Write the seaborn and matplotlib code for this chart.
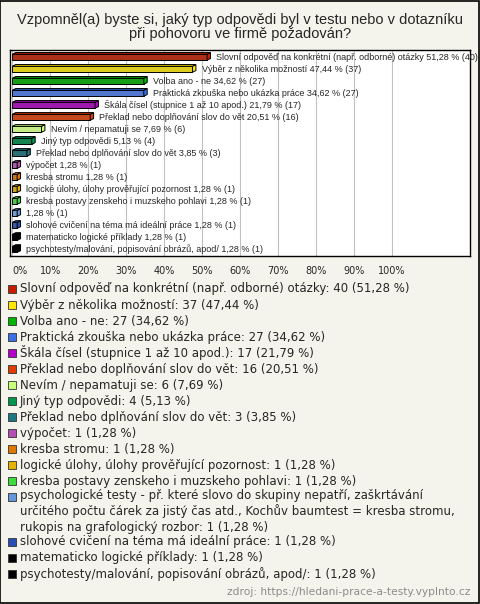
import numpy as np
import pandas as pd
import matplotlib
matplotlib.use("Agg")
import matplotlib.pyplot as plt
import seaborn as sns
from matplotlib.patches import Rectangle, Polygon

# --- data -------------------------------------------------------------
categories = [
    "Slovní odpověď na konkrétní (např. odborné) otázky",
    "Výběr z několika možností",
    "Volba ano - ne",
    "Praktická zkouška nebo ukázka práce",
    "Škála čísel (stupnice 1 až 10 apod.)",
    "Překlad nebo doplňování slov do vět",
    "Nevím / nepamatuji se",
    "Jiný typ odpovědi",
    "Překlad nebo dplňování slov do vět",
    "výpočet",
    "kresba stromu",
    "logické úlohy, úlohy prověřující pozornost",
    "kresba postavy zenskeho i muzskeho pohlavi",
    "psychologické testy - př. které slovo do skupiny nepatří, zaškrtávání\n"
    "určitého počtu čárek za jistý čas atd., Kochův baumtest = kresba stromu,\n"
    "rukopis na grafologický rozbor",
    "slohové cvičení na téma má ideální práce",
    "matematicko logické příklady",
    "psychotesty/malování, popisování obrázů, apod/",
]
counts = [40, 37, 27, 27, 17, 16, 6, 4, 3, 1, 1, 1, 1, 1, 1, 1, 1]
percents = [51.28, 47.44, 34.62, 34.62, 21.79, 20.51, 7.69, 5.13, 3.85,
            1.28, 1.28, 1.28, 1.28, 1.28, 1.28, 1.28, 1.28]
# the psychologické row has no name next to its bar in the original
bar_names = categories[:13] + [""] + categories[14:]
colors = ["#c81e00", "#ffe600", "#00b400", "#3c6ee6", "#b400c8", "#e03c00",
          "#c8ff78", "#009650", "#1e7882", "#b450b4", "#e07800", "#e6b400",
          "#3cdc3c", "#6496dc", "#2850b4", "#000000", "#000000"]
ticks = [0, 10, 20, 30, 40, 50, 60, 70, 80, 90, 100]

title = ("Vzpomněl(a) byste si, jaký typ odpovědi byl v testu nebo v dotazníku\n"
         "při pohovoru ve firmě požadován?")
source = "zdroj: https://hledani-prace-a-testy.vyplnto.cz"


def fmt(v):
    return f"{v:.2f}".replace(".", ",")


df = pd.DataFrame({"cat": [f"r{i}" for i in range(len(categories))],
                   "pct": percents})

W, H = 480, 604
sns.set_theme(style="white")
plt.rcParams["font.family"] = ["DejaVu Sans"]
fig = plt.figure(figsize=(W / 100, H / 100), dpi=100)
fig.patch.set_facecolor("#f4f3ec")

ax = fig.add_axes([10 / W, 1 - 256 / H, 460 / W, 206 / H])
ax.set_facecolor("white")
sns.barplot(data=df, x="pct", y="cat", hue="cat", palette=colors, legend=False,
            orient="h", width=0.5, edgecolor="black", linewidth=0.7, ax=ax)

ax.set_xlim(-0.6, 120.5)
ax.set_ylim(len(categories) - 0.45, -0.6)
ax.set_xticks(ticks)
ax.set_xticklabels([f"{t}%" for t in ticks], fontsize=7)
ax.get_xticklabels()[0].set_horizontalalignment("left")
ax.tick_params(axis="x", length=0, pad=7)
ax.set_yticks([])
ax.set_xlabel("")
ax.set_ylabel("")
ax.grid(axis="x", color="#c0c0c0", linewidth=0.8)
ax.set_axisbelow(True)
for s in ax.spines.values():
    s.set_color("black")
    s.set_linewidth(1)

# fake 3D caps + value labels
dx, dy = 0.9, 0.14
for p, name, v, n, c in zip(ax.patches, bar_names, percents, counts, colors):
    x0, y0 = p.get_x(), p.get_y()
    w, h = p.get_width(), p.get_height()
    side = Polygon([(x0 + w, y0), (x0 + w + dx, y0 - dy), (x0 + w + dx, y0 + h - dy),
                    (x0 + w, y0 + h)], closed=True, facecolor=c,
                   edgecolor="black", linewidth=0.7, zorder=3)
    top = Polygon([(x0, y0), (x0 + dx, y0 - dy), (x0 + w + dx, y0 - dy), (x0 + w, y0)],
                  closed=True, facecolor=c, edgecolor="black", linewidth=0.7, zorder=3)
    ax.add_patch(side)
    ax.add_patch(top)
    lab = f"{name} {fmt(v)} % ({n})".strip()
    ax.text(x0 + w + 2.4, y0 + h / 2, lab, va="center", ha="left", fontsize=6.5,
            family="Liberation Sans", clip_on=False, zorder=4)

fig.text(0.5, 1 - 27 / H, title, ha="center", va="center", fontsize=10.5,
         family="Liberation Sans", linespacing=1.05)

# legend below the chart
y = 289
for cat, n, v, c in zip(categories, counts, percents, colors):
    nl = cat.count("\n") + 1
    fig.patches.append(Rectangle((8 / W, 1 - (y + 4) / H), 8 / W, 8 / H,
                                 transform=fig.transFigure, facecolor=c,
                                 edgecolor="#333333", linewidth=0.6))
    yc = y + (nl - 1) * 14.4 / 2
    fig.text(20 / W, 1 - yc / H, f"{cat}: {n} ({fmt(v)} %)", ha="left", va="center",
             fontsize=8.5, linespacing=1.22)
    y += 16 + 14.4 * (nl - 1)

fig.text(470 / W, 1 - 592 / H, source, ha="right", va="center", fontsize=7.7,
         color="#8c8c8c")

# outer frame drawn last so the clipped labels sit under it
fig.patches.append(Rectangle((0.001, 0.001), 0.997, 0.997, transform=fig.transFigure,
                             fill=False, edgecolor="black", linewidth=1.2, zorder=10))

fig.savefig("out.png", dpi=100, facecolor=fig.get_facecolor())
